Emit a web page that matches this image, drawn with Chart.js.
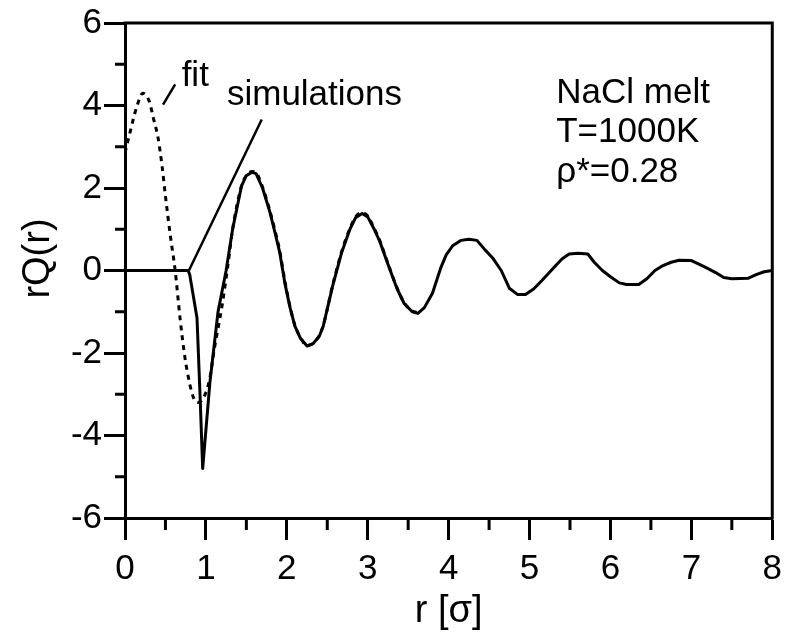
<!DOCTYPE html>
<html><head><meta charset="utf-8">
<script src="https://cdn.jsdelivr.net/npm/chart.js@4/dist/chart.umd.min.js"></script>
<style>html,body{margin:0;padding:0;background:#fff;}#wrap{width:790px;height:636px;}</style>
</head><body><div id="wrap"><canvas id="c" width="790" height="636"></canvas></div>
<script>
const simR = [0,0.2,0.4,0.6,0.78,0.8,0.89,0.93,0.96,1.05,1.15,1.25,1.33,1.44,1.5,1.57,1.62,1.7,1.79,1.85,1.91,1.98,2.04,2.1,2.17,2.25,2.32,2.4,2.45,2.57,2.68,2.78,2.85,2.93,3.0,3.08,3.15,3.25,3.36,3.45,3.55,3.62,3.7,3.8,3.9,3.97,4.05,4.15,4.25,4.35,4.45,4.55,4.65,4.75,4.85,4.95,5.05,5.15,5.29,5.4,5.49,5.6,5.72,5.8,5.9,6.0,6.11,6.2,6.35,6.45,6.55,6.65,6.75,6.85,7.0,7.1,7.2,7.3,7.4,7.5,7.7,7.8,7.9,8.0];
const simQ = [0,0,0,0,0,-0.1,-1.15,-3.15,-4.8,-2.7,-1.0,0.0,1.0,2.05,2.3,2.38,2.35,2.0,1.42,0.95,0.46,-0.35,-0.9,-1.35,-1.65,-1.83,-1.78,-1.6,-1.35,-0.35,0.45,1.0,1.28,1.38,1.3,1.0,0.7,0.15,-0.43,-0.8,-1.0,-1.04,-0.9,-0.55,0.05,0.38,0.6,0.73,0.76,0.73,0.5,0.29,0.0,-0.43,-0.58,-0.58,-0.45,-0.25,0.05,0.28,0.4,0.42,0.4,0.2,0.0,-0.15,-0.3,-0.34,-0.34,-0.2,0.0,0.12,0.2,0.25,0.24,0.15,0.05,-0.05,-0.17,-0.2,-0.19,-0.1,-0.03,0.0];
const fitR = [0,0.05,0.1,0.15,0.22,0.3,0.35,0.41,0.46,0.5,0.56,0.62,0.68,0.74,0.8,0.85,0.9,0.95,1.01,1.05,1.1,1.2,1.27,1.33,1.44,1.5,1.57,1.62,1.7,1.79,1.85,1.91,1.98,2.04,2.1,2.17,2.25,2.32,2.4,2.45,2.57,2.68,2.78,2.85,2.93,3.0,3.08,3.15,3.25,3.36,3.45,3.55,3.62];
const fitQ = [2.85,3.25,3.65,4.0,4.3,4.1,3.7,3.2,2.5,1.8,0.85,0.0,-1.15,-2.1,-2.75,-3.1,-3.2,-3.15,-2.9,-2.6,-1.95,-0.85,0.1,1.0,2.05,2.3,2.4,2.37,2.02,1.45,1.0,0.5,-0.3,-0.88,-1.33,-1.63,-1.82,-1.77,-1.58,-1.33,-0.33,0.47,1.02,1.3,1.4,1.32,1.02,0.72,0.17,-0.41,-0.78,-0.98,-1.02];
const xTicks = [0,1,2,3,4,5,6,7,8];
const yTicks = [-6,-4,-2,0,2,4,6];
const xMinor = [0.5,1.5,2.5,3.5,4.5,5.5,6.5,7.5];
const yMinor = [-5,-3,-1,1,3,5];
const infoLines = ['NaCl melt','T=1000K','\u03C1*=0.28'];
const yTitle = 'rQ(r)';
const xTitle = 'r [\u03C3]';

const FONT = "'Liberation Sans', Arial, sans-serif";
const pts = (xs, ys) => xs.map((x, i) => ({x, y: ys[i]}));

const deco = {
  id: 'deco',
  afterDraw(chart) {
    const {ctx, chartArea: a, scales: {x, y}} = chart;
    ctx.save();
    ctx.strokeStyle = '#000';
    ctx.lineCap = 'butt';
    ctx.lineWidth = 3;
    ctx.beginPath();
    ctx.moveTo(a.left - 1.5, a.top); ctx.lineTo(a.right, a.top); ctx.lineTo(a.right, a.bottom + 1.5);
    ctx.stroke();
    ctx.beginPath();
    xMinor.forEach(v => { const px = x.getPixelForValue(v); ctx.moveTo(px, a.bottom); ctx.lineTo(px, a.bottom + 12); });
    yMinor.forEach(v => { const py = y.getPixelForValue(v); ctx.moveTo(a.left, py); ctx.lineTo(a.left - 10, py); });
    ctx.stroke();
    ctx.lineWidth = 2.5;
    ctx.beginPath();
    ctx.moveTo(x.getPixelForValue(0.47), y.getPixelForValue(4.02));
    ctx.lineTo(x.getPixelForValue(0.62), y.getPixelForValue(4.51));
    ctx.moveTo(x.getPixelForValue(1.69), y.getPixelForValue(3.66));
    ctx.lineTo(x.getPixelForValue(0.79), y.getPixelForValue(0));
    ctx.stroke();
    ctx.fillStyle = '#000';
    ctx.font = '35px ' + FONT;
    ctx.textBaseline = 'alphabetic';
    ctx.textAlign = 'left';
    ctx.fillText('fit', x.getPixelForValue(0.70), y.getPixelForValue(4.48));
    ctx.fillText('simulations', x.getPixelForValue(1.26), y.getPixelForValue(4.02));
    infoLines.forEach((t, i) => ctx.fillText(t, x.getPixelForValue(5.33), y.getPixelForValue(4.07 - i * 0.96)));
    // y axis title
    ctx.font = '38px ' + FONT;
    ctx.textAlign = 'center';
    ctx.textBaseline = 'middle';
    ctx.translate(a.left - 86, (a.top + a.bottom) / 2 - 12);
    ctx.rotate(-Math.PI / 2);
    ctx.fillText(yTitle, 0, 0);
    ctx.restore();
  }
};

new Chart(document.getElementById('c'), {
  type: 'line',
  data: {
    datasets: [
      {label: 'simulations', data: pts(simR, simQ), borderColor: '#000', borderWidth: 3, pointRadius: 0, tension: 0, borderJoinStyle: 'round', fill: false},
      {label: 'fit', data: pts(fitR, fitQ), borderColor: '#000', borderWidth: 3, borderDash: [5, 5], pointRadius: 0, cubicInterpolationMode: 'monotone', fill: false}
    ]
  },
  options: {
    responsive: false,
    animation: false,
    devicePixelRatio: 1,
    layout: {padding: {left: 0, right: 17, top: 20, bottom: 0}},
    plugins: {legend: {display: false}, tooltip: {enabled: false}},
    scales: {
      x: {
        type: 'linear', min: 0, max: 8,
        afterBuildTicks: s => { s.ticks = xTicks.map(v => ({value: v})); },
        afterFit: s => { s.height = 118; },
        ticks: {color: '#000', font: {size: 35, family: FONT}, padding: 8, maxRotation: 0, autoSkip: false, callback: v => String(v)},
        grid: {drawOnChartArea: false, drawTicks: true, tickLength: 22, tickWidth: 3, tickColor: '#000'},
        border: {display: true, color: '#000', width: 3},
        title: {display: true, text: xTitle, color: '#000', font: {size: 38, family: FONT}, padding: {top: 0, bottom: 2}}
      },
      y: {
        type: 'linear', min: -6, max: 6,
        afterBuildTicks: s => { s.ticks = yTicks.map(v => ({value: v})); },
        afterFit: s => { s.width = 125; },
        ticks: {color: '#000', font: {size: 35, family: FONT}, padding: 2, autoSkip: false, callback: v => String(v)},
        grid: {drawOnChartArea: false, drawTicks: true, tickLength: 21, tickWidth: 3, tickColor: '#000'},
        border: {display: true, color: '#000', width: 3},
        title: {display: false, text: yTitle}
      }
    }
  },
  plugins: [deco]
});
</script></body></html>
